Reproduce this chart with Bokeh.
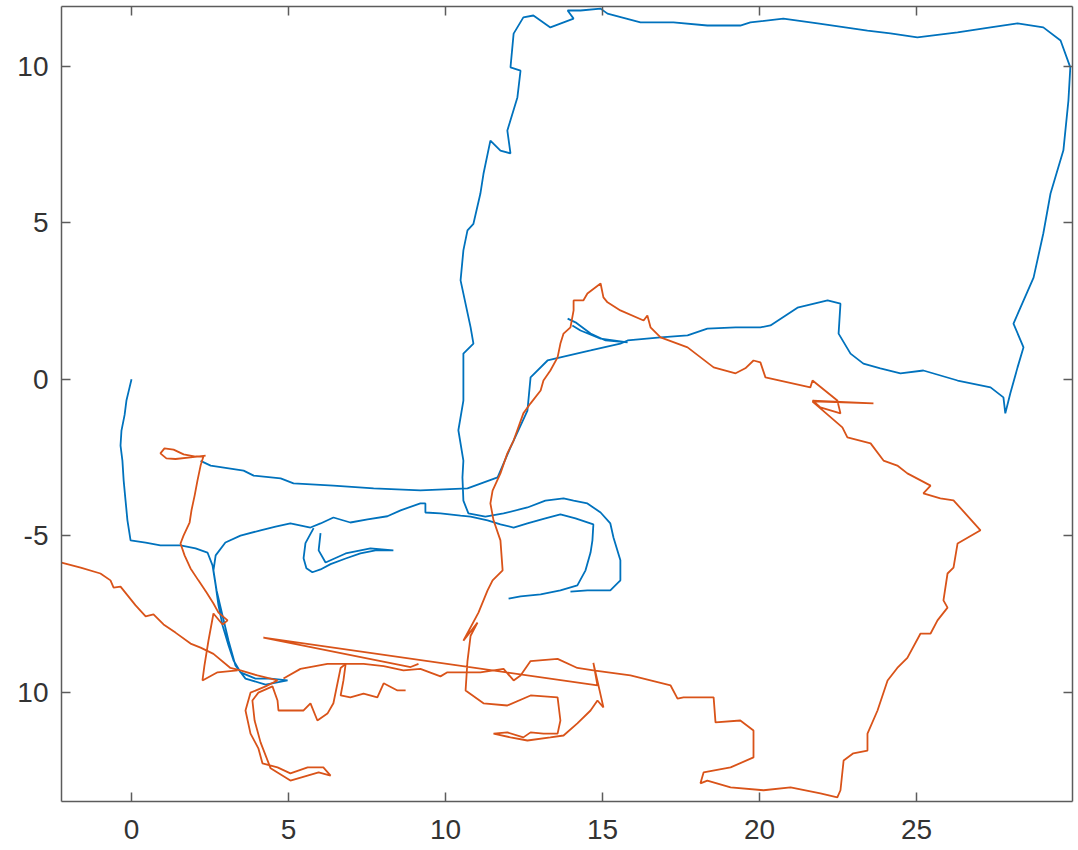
from bokeh.plotting import figure
from bokeh.models import Range1d, LinearAxis, FixedTicker
from bokeh.embed import file_html
from bokeh.resources import INLINE

# ---------------- data (x, y) in plot units ----------------
blue_start = [(0, 0), (-0.10, -0.42), (-0.16, -0.67), (-0.22, -1.14), (-0.32, -1.64), (-0.35, -2.12),
              (-0.29, -2.60), (-0.25, -3.24), (-0.19, -3.88), (-0.13, -4.51), (-0.03, -5.15), (0.45, -5.22),
              (0.92, -5.31), (1.56, -5.31), (2.04, -5.41), (2.42, -5.54), (2.58, -5.95), (2.68, -6.59),
              (2.77, -7.23), (2.90, -7.87), (3.09, -8.51), (3.25, -8.99), (3.47, -9.37), (3.95, -9.57),
              (4.43, -9.57), (4.97, -9.63), (4.27, -9.76), (3.63, -9.57), (3.31, -9.15), (3.09, -8.36),
              (2.90, -7.56), (2.71, -6.75), (2.61, -6.11), (2.68, -5.63), (2.99, -5.22), (3.47, -5.00),
              (4.11, -4.83), (4.59, -4.71), (5.06, -4.61), (5.70, -4.74), (6.02, -4.61), (6.43, -4.42),
              (6.97, -4.58), (7.52, -4.48), (8.15, -4.38), (8.57, -4.19), (9.20, -3.97), (9.36, -3.97),
              (9.36, -4.26), (9.84, -4.29), (10.48, -4.36), (10.80, -4.39), (11.34, -4.51), (11.75, -4.64),
              (12.17, -4.74), (12.61, -4.61), (13.18, -4.45), (13.66, -4.32), (14.14, -4.45), (14.71, -4.64),
              (14.68, -5.15), (14.62, -5.54), (14.46, -6.11), (14.20, -6.59), (13.66, -6.75), (13.03, -6.88),
              (12.39, -6.94), (12.01, -7.01)]

blue_hook = [(5.80, -4.76), (5.54, -5.24), (5.48, -5.72), (5.57, -6.04), (5.76, -6.17), (6.02, -6.08),
             (6.34, -5.91), (6.82, -5.73), (7.29, -5.57), (7.77, -5.47), (8.34, -5.47), (7.61, -5.41),
             (6.82, -5.57), (6.18, -5.86), (5.96, -5.47), (6.02, -4.92)]

blue_loop = [(2.20, -2.61), (2.52, -2.76), (3.57, -2.92), (3.89, -3.08), (4.75, -3.17), (5.16, -3.33),
             (6.43, -3.40), (7.71, -3.49), (9.20, -3.55), (10.70, -3.49), (11.66, -3.14), (12.07, -2.18),
             (12.39, -1.48), (12.61, -1.00), (12.71, 0.06), (13.25, 0.60), (13.66, 0.70), (14.62, 0.92),
             (15.57, 1.14), (15.80, 1.24), (16.85, 1.34), (17.71, 1.40), (18.34, 1.62), (19.24, 1.66),
             (20.03, 1.66), (20.35, 1.72), (21.21, 2.29), (22.17, 2.52), (22.58, 2.42), (22.52, 1.46),
             (22.90, 0.82), (23.31, 0.50), (23.85, 0.35), (24.49, 0.19), (25.22, 0.28), (26.31, -0.04),
             (27.36, -0.26), (27.77, -0.58), (27.83, -1.09), (27.99, -0.45), (28.22, 0.38), (28.41, 1.02),
             (28.09, 1.78), (28.73, 3.25), (29.04, 4.66), (29.27, 5.94), (29.68, 7.32), (29.84, 8.91),
             (29.90, 9.97), (29.59, 10.83), (29.04, 11.25), (28.22, 11.38), (27.36, 11.25), (26.31, 11.09),
             (25.03, 10.93), (24.17, 11.06), (23.44, 11.15), (21.85, 11.38), (20.76, 11.53), (19.71, 11.41),
             (19.39, 11.31), (18.34, 11.31), (17.26, 11.41), (16.21, 11.41), (15.16, 11.69), (14.94, 11.85),
             (14.30, 11.79), (13.89, 11.79), (14.08, 11.53), (13.34, 11.25), (12.80, 11.63), (12.48, 11.57),
             (12.17, 11.05), (12.07, 9.97), (12.39, 9.87), (12.29, 9.01), (11.97, 7.95), (12.07, 7.22),
             (11.75, 7.31), (11.43, 7.63), (11.21, 6.57), (11.11, 5.93), (10.89, 4.97), (10.70, 4.76),
             (10.57, 4.12), (10.48, 3.16), (10.80, 1.66), (10.89, 1.14), (10.57, 0.82), (10.57, -0.68),
             (10.41, -1.63), (10.57, -2.60), (10.54, -3.14), (10.57, -3.88), (10.73, -4.29), (11.27, -4.39),
             (11.85, -4.29), (12.61, -4.10), (13.18, -3.88), (13.76, -3.81), (14.08, -3.88), (14.52, -3.97),
             (14.94, -4.26), (15.25, -4.61), (15.35, -5.06), (15.57, -5.79), (15.57, -6.43), (15.25, -6.75),
             (14.52, -6.75), (13.98, -6.79)]

blue_spur = [(13.89, 1.94), (14.14, 1.82), (14.62, 1.46), (15.10, 1.24), (15.80, 1.18), (14.94, 1.30),
             (14.30, 1.56), (14.04, 1.72)]

orange_west = [(-2.23, -5.86), (-1.62, -6.02), (-0.99, -6.21), (-0.67, -6.43), (-0.57, -6.66), (-0.35, -6.63),
               (0.13, -7.23), (0.45, -7.58), (0.70, -7.52), (1.02, -7.84), (1.40, -8.10), (1.88, -8.45),
               (2.20, -8.58), (2.61, -8.78), (3.15, -9.23), (3.47, -9.31), (4.01, -9.47), (4.65, -9.63),
               (4.27, -9.82), (3.79, -10.02), (3.63, -10.59), (3.79, -11.33), (4.04, -11.80), (4.17, -12.28),
               (4.65, -12.41), (5.06, -12.60), (5.61, -12.41), (6.11, -12.41), (6.34, -12.67), (5.96, -12.57),
               (5.06, -12.83), (4.43, -12.44), (4.11, -11.61), (3.92, -10.91), (3.85, -10.27), (4.04, -10.02),
               (4.49, -9.82), (4.65, -10.27), (4.68, -10.59), (5.48, -10.59), (5.70, -10.36), (5.92, -10.91),
               (6.24, -10.69), (6.43, -10.36), (6.56, -9.72), (6.66, -9.23), (6.82, -9.10), (6.75, -9.63),
               (6.66, -10.11), (6.97, -10.17), (7.39, -10.05), (7.83, -10.17), (8.03, -9.72), (8.47, -9.95),
               (8.73, -9.95)]

orange_knot = [(2.36, -2.44), (1.88, -2.50), (1.40, -2.55), (1.11, -2.53), (0.92, -2.37), (1.05, -2.21),
               (1.34, -2.25), (1.66, -2.40), (2.04, -2.47), (2.29, -2.47), (2.20, -2.76), (2.10, -3.24),
               (2.01, -3.72), (1.91, -4.19), (1.85, -4.58), (1.66, -4.99), (1.56, -5.25), (1.69, -5.63),
               (1.88, -6.05), (2.13, -6.43), (2.39, -6.82), (2.61, -7.17), (2.77, -7.46), (3.06, -7.71),
               (2.90, -7.84), (2.61, -7.49), (2.45, -8.36), (2.32, -9.17), (2.26, -9.63), (2.74, -9.37),
               (3.38, -9.31)]

orange_main = [(4.84, -9.57), (5.38, -9.26), (6.24, -9.10), (7.39, -9.10), (8.03, -9.17), (8.66, -9.31),
               (9.20, -9.26), (9.84, -9.50), (10.06, -9.37), (11.11, -9.37), (11.85, -9.26), (12.17, -9.63),
               (12.39, -9.47), (12.71, -9.01), (13.57, -8.94), (14.20, -9.23), (14.71, -9.31), (15.89, -9.47),
               (17.17, -9.79), (17.39, -10.21), (17.58, -10.17), (18.54, -10.17), (18.60, -10.97), (19.39, -10.91),
               (19.81, -11.23), (19.81, -12.09), (19.08, -12.41), (18.22, -12.57), (18.12, -12.92), (18.34, -12.83),
               (19.08, -13.05), (20.13, -13.14), (20.99, -13.05), (21.94, -13.24), (22.48, -13.37), (22.58, -13.14),
               (22.68, -12.19), (22.99, -11.96), (23.44, -11.87), (23.44, -11.33), (23.76, -10.59), (24.08, -9.63),
               (24.39, -9.23), (24.71, -8.91), (25.13, -8.13), (25.45, -8.13), (25.67, -7.71), (25.99, -7.30),
               (25.86, -7.07), (25.99, -6.21), (26.18, -6.02), (26.31, -5.25), (27.04, -4.83), (26.18, -3.87),
               (25.76, -3.81), (25.22, -3.65), (25.45, -3.40), (24.71, -3.01), (24.39, -2.76), (23.95, -2.60),
               (23.54, -2.05), (22.80, -1.86), (22.64, -1.54), (21.94, -0.93), (21.69, -0.71), (23.63, -0.77),
               (21.69, -0.68), (21.94, -0.90), (22.58, -1.09), (22.48, -0.68), (21.69, -0.04), (21.62, -0.26),
               (20.19, 0.06), (20.03, 0.54), (19.81, 0.60), (19.55, 0.35), (19.24, 0.19), (18.54, 0.38),
               (17.71, 1.02), (16.85, 1.34), (16.53, 1.66), (16.43, 2.04), (16.31, 1.88), (15.57, 2.20),
               (15.16, 2.46), (15.03, 2.62), (14.94, 3.06), (14.52, 2.74), (14.39, 2.52), (14.08, 2.52),
               (14.08, 2.20), (13.98, 1.66), (13.76, 1.46), (13.66, 1.14), (13.57, 0.70), (13.34, 0.28),
               (13.12, -0.04), (13.03, -0.36), (12.71, -0.77), (12.48, -1.09), (12.17, -1.96), (11.97, -2.37),
               (11.75, -3.01), (11.50, -3.56), (11.43, -3.97), (11.53, -4.51), (11.75, -5.15), (11.82, -6.11),
               (11.50, -6.43), (11.34, -6.75), (11.05, -7.46), (10.57, -8.36), (11.02, -7.78), (10.80, -8.20),
               (10.70, -9.01), (10.64, -9.95), (11.21, -10.36), (11.97, -10.43), (12.71, -10.11), (13.57, -10.17),
               (13.66, -10.91), (13.57, -11.33), (13.12, -11.33), (12.71, -11.29), (12.48, -11.45), (11.97, -11.29),
               (11.53, -11.33), (12.07, -11.45), (12.61, -11.55), (13.34, -11.45), (13.76, -11.39), (14.20, -11.00),
               (14.62, -10.59), (14.84, -10.27), (15.03, -10.49), (14.71, -9.07), (14.84, -9.79), (4.20, -8.26),
               (8.89, -9.20), (9.14, -9.10)]

blue_tracks = [blue_start, blue_hook, blue_loop, blue_spur]
orange_tracks = [orange_west, orange_knot, orange_main]

x_ticks = [0, 5, 10, 15, 20, 25]
y_ticks = [-10, -5, 0, 5, 10]
y_tick_text = {-10: "10", -5: "-5", 0: "0", 5: "5", 10: "10"}

BLUE = "#0072BD"
ORANGE = "#D95319"
AXIS = "#5c5c5c"
TEXT = "#333333"
FONT = "Liberation Sans"

p = figure(frame_width=1011, frame_height=795,
           x_range=Range1d(-2.23, 29.97), y_range=Range1d(-13.50, 11.918),
           output_backend="svg", toolbar_location=None,
           min_border_left=61, min_border_right=6, min_border_top=6, min_border_bottom=49,
           background_fill_color="white", border_fill_color="white")
p.grid.visible = False
p.outline_line_color = None

for tr in blue_tracks:
    xs, ys = zip(*tr)
    p.line(list(xs), list(ys), line_color=BLUE, line_width=1.8)
for tr in orange_tracks:
    xs, ys = zip(*tr)
    p.line(list(xs), list(ys), line_color=ORANGE, line_width=1.8)


def style(ax, ticks, labels):
    ax.ticker = FixedTicker(ticks=ticks)
    ax.major_label_overrides = labels
    ax.major_tick_in = 9
    ax.major_tick_out = 0
    ax.minor_tick_line_color = None
    ax.axis_line_color = AXIS
    ax.axis_line_width = 1.5
    ax.major_tick_line_color = AXIS
    ax.major_tick_line_width = 1.5
    ax.major_label_text_font = FONT
    ax.major_label_text_font_size = "28px"
    ax.major_label_text_color = TEXT


style(p.xaxis[0], x_ticks, {t: str(t) for t in x_ticks})
p.xaxis[0].major_label_standoff = 18
style(p.yaxis[0], y_ticks, y_tick_text)
p.yaxis[0].major_label_standoff = 13

top = LinearAxis()
style(top, x_ticks, {t: "" for t in x_ticks})
top.major_label_standoff = 0
top.major_label_text_font_size = "1px"
p.add_layout(top, "above")

right = LinearAxis()
style(right, y_ticks, {t: "" for t in y_ticks})
right.major_label_standoff = 0
right.major_label_text_font_size = "1px"
p.add_layout(right, "right")

open("out.html", "w").write(file_html(p, INLINE))
